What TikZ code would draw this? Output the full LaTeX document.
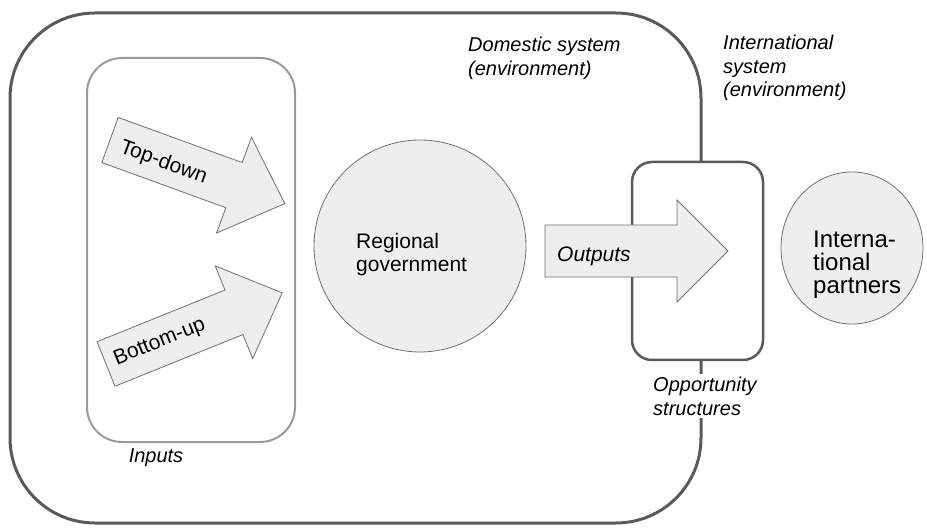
\documentclass[tikz,border=0pt]{standalone}
\usepackage{fontspec}
\setmainfont{Liberation Sans}
\usetikzlibrary{shapes.geometric}
\definecolor{boxgray}{HTML}{5A5A5A}
\definecolor{inputgray}{HTML}{9A9A9A}
\definecolor{shapefill}{HTML}{EEEEEE}
\definecolor{shapeline}{HTML}{707070}
\begin{document}
\begin{tikzpicture}[x=1pt, y=-1pt,
  every node/.style={font=\fontsize{21}{23.5}\selectfont, inner sep=0pt},
  lbl/.style={font=\fontsize{20}{23.5}\selectfont\itshape, align=left},
  blockarrow/.style={fill=shapefill, draw=shapeline, line width=0.8pt},
  disc/.style={ellipse, fill=shapefill, draw=shapeline, line width=0.8pt}]

  \useasboundingbox (0,0) rectangle (927,529);

  % systems
  \draw[draw=boxgray, line width=3pt, rounded corners=85pt] (10,13) rectangle (701,523);
  \draw[draw=inputgray, line width=2pt, rounded corners=35pt] (87,58) rectangle (295,442);
  \draw[fill=white, draw=boxgray, line width=2.5pt, rounded corners=20pt] (632,162) rectangle (763,360);

  % inputs
  \begin{scope}[shift={(110,140)}, rotate=-20, transform shape]
    \draw[blockarrow] (0,-24) -- (132,-24) -- (132,-51) -- (186,0) -- (132,51) -- (132,24) -- (0,24) -- cycle;
    \node (topdown) at (58,3) {Top-down};
  \end{scope}
  \begin{scope}[shift={(106,364)}, rotate=22, transform shape]
    \draw[blockarrow] (0,-24) -- (138,-24) -- (138,-50) -- (190,0) -- (138,50) -- (138,24) -- (0,24) -- cycle;
    \node (bottomup) at (58,0) {Bottom-up};
  \end{scope}

  % actors
  \node[disc, minimum width=212pt, minimum height=212pt] (regional) at (420,246) {};
  \node[align=left, anchor=north west] (regionaltext) at (356,233) {Regional\\government};
  \node[disc, minimum width=142pt, minimum height=152pt] (partners) at (852,248) {};
  \node[align=left, anchor=north west, font=\fontsize{24}{23}\selectfont] (partnerstext) at (813,231) {Interna-\\tional\\partners};

  % outputs
  \draw[blockarrow] (545,225) -- (677,225) -- (677,200) -- (728,251) -- (677,302) -- (677,277) -- (545,277) -- cycle;
  \node[lbl, anchor=base west, font=\fontsize{21}{23.5}\selectfont\itshape] (outputs) at (557,262) {Outputs};

  % labels
  \node[lbl, anchor=north west] (domestic) at (468,37) {Domestic system\\(environment)};
  \node[lbl, anchor=north west] (international) at (723,35) {International\\system\\(environment)};
  \node[lbl] (inputs) at (156,458) {Inputs};
  \node[lbl, anchor=north west, fill=white, inner sep=3pt] (opportunity) at (650,374) {Opportunity\\structures};
\end{tikzpicture}
\end{document}
